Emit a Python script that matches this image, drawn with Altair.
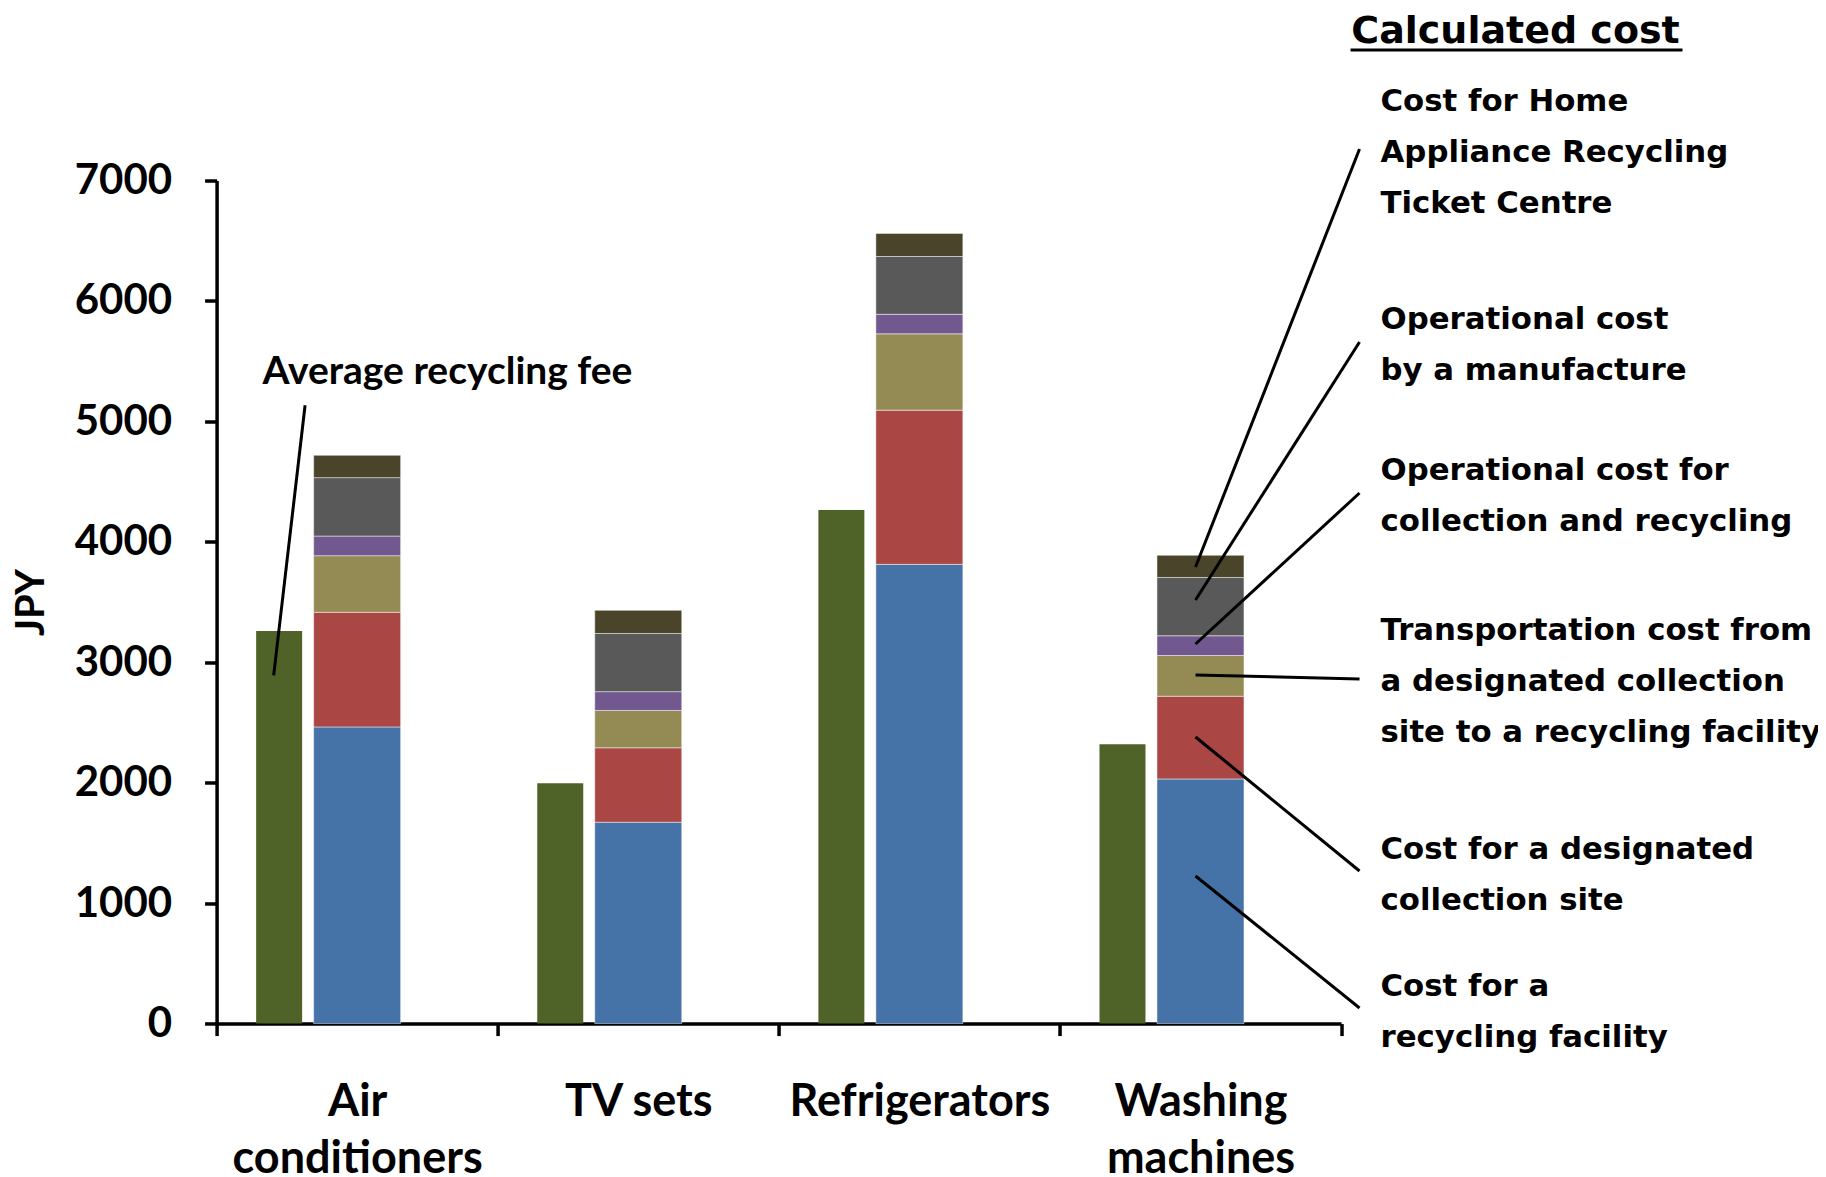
import altair as alt
import pandas as pd

# ---------------- data ----------------
categories = ["Air conditioners", "TV sets", "Refrigerators", "Washing machines"]
category_lines = [["Air", "conditioners"], ["TV sets"], ["Refrigerators"], ["Washing", "machines"]]

average_fee = [3260, 1995, 4265, 2320]

components = [
    "Cost for a recycling facility",
    "Cost for a designated collection site",
    "Transportation cost from a designated collection site to a recycling facility",
    "Operational cost for collection and recycling",
    "Operational cost by a manufacture",
    "Cost for Home Appliance Recycling Ticket Centre",
]
facility = [2463, 1672, 3813, 2031]
collection_site = [952, 618, 1280, 687]
transport = [470, 310, 634, 338]
op_collection = [163, 156, 162, 164]
op_manufacture = [485, 483, 480, 484]
ticket_centre = [185, 192, 192, 184]
component_values = [facility, collection_site, transport, op_collection, op_manufacture, ticket_centre]

component_colors = ["#4572A7", "#AA4643", "#948A54", "#71588F", "#595959", "#4A452A"]
fee_color = "#4F6228"

fee_df = pd.DataFrame({"category": categories, "fee": average_fee})
rows = []
for i, (comp, vals) in enumerate(zip(components, component_values)):
    for cat, v in zip(categories, vals):
        rows.append({"category": cat, "component": comp, "order": i, "value": v})
cost_df = pd.DataFrame(rows)

# ---------------- layout ----------------
W, H = 1124.5, 843.1
FONT = "Lato"
WIDE = "DejaVu Sans"

label_expr = " : ".join(
    f"datum.label == '{c}' ? {lines!r}" for c, lines in zip(categories, category_lines)
) + " : datum.label"

x_axis = alt.Axis(
    tickBand="extent", domainColor="black", domainWidth=3.5, tickColor="black",
    tickWidth=3.5, tickSize=12, labelFont=FONT, labelFontSize=45, labelFontWeight="bold",
    labelColor="black", labelPadding=44, labelLineHeight=57, labelAngle=0, labelLimit=0,
    labelExpr=label_expr, title=None,
)
x_enc = alt.X("category:N", sort=categories,
              scale=alt.Scale(domain=categories, paddingInner=0, paddingOuter=0),
              axis=x_axis)

y_axis = alt.Axis(
    values=list(range(0, 7001, 1000)), format="d", grid=False, domainColor="black",
    domainWidth=3.5, tickColor="black", tickWidth=3.5, tickSize=12, labelFont=FONT,
    labelFontSize=42, labelFontWeight="bold", labelColor="black", labelPadding=33,
    title="JPY", titleFont=FONT, titleFontSize=40, titleFontWeight="bold",
    titleColor="black", titleAngle=270, titleX=-185, titleY=H / 2,
    titleAlign="center", titleBaseline="middle",
)
y_scale = alt.Scale(domain=[0, 7000], nice=False)

fee_layer = alt.Chart(fee_df).mark_bar(size=46, xOffset=-78, color=fee_color).encode(
    x=x_enc,
    y=alt.Y("fee:Q", scale=y_scale, axis=y_axis),
)

cost_layer = alt.Chart(cost_df).mark_bar(size=87, stroke="white", strokeWidth=0.8,
                                          strokeOpacity=0.6).encode(
    x=x_enc,
    y=alt.Y("value:Q", stack="zero", scale=y_scale, axis=y_axis),
    color=alt.Color("component:N", scale=alt.Scale(domain=components, range=component_colors),
                    legend=None),
    order=alt.Order("order:Q"),
)


def rule(x1, y1, x2, y2, w=3):
    return alt.Chart(alt.Data(values=[{}])).mark_rule(color="black", strokeWidth=w).encode(
        x=alt.value(x1), y=alt.value(y1), x2=alt.value(x2), y2=alt.value(y2))


def text(lines, x, y, size, font, align="left", lh=51):
    return alt.Chart(alt.Data(values=[{}])).mark_text(
        text=lines, font=font, fontSize=size, fontWeight="bold", align=align,
        baseline="middle", lineHeight=lh, color="black").encode(
        x=alt.value(x), y=alt.value(y))


annotations = [
    text(["Average recycling fee"], 46, 191, 39, FONT),
    rule(88.5, 224.7, 57.1, 494.9),
    text(["Calculated cost"], 1299, -149, 38, WIDE, align="center"),
    rule(1134, -130.5, 1466, -130.5, 3),
    text(["Cost for Home", "Appliance Recycling", "Ticket Centre"], 1164, -78.5, 30.8, WIDE),
    text(["Operational cost", "by a manufacture"], 1164, 139.5, 30.8, WIDE),
    text(["Operational cost for", "collection and recycling"], 1164, 290.8, 30.8, WIDE),
    text(["Transportation cost from", "a designated collection",
          "site to a recycling facility"], 1164, 450.3, 30.8, WIDE),
    text(["Cost for a designated", "collection site"], 1164, 669.3, 30.8, WIDE),
    text(["Cost for a", "recycling facility"], 1164, 806.7, 30.8, WIDE),
    rule(979, 386.5, 1143, -31.5),
    rule(979, 419.5, 1143, 161.5),
    rule(979, 463.5, 1143, 312.5),
    rule(979, 494.5, 1143, 498.5),
    rule(979, 556.5, 1143, 690.5),
    rule(979, 695.5, 1143, 827.5),
]

chart = alt.layer(fee_layer, cost_layer, *annotations).properties(
    width=W, height=H,
    autosize=alt.AutoSizeParams(type="none"),
    padding={"left": 208.6, "top": 172.5, "right": 477, "bottom": 152},
    background="white",
).configure_view(stroke=None)

chart.save("out.html", embed_options={"renderer": "svg", "actions": False})
